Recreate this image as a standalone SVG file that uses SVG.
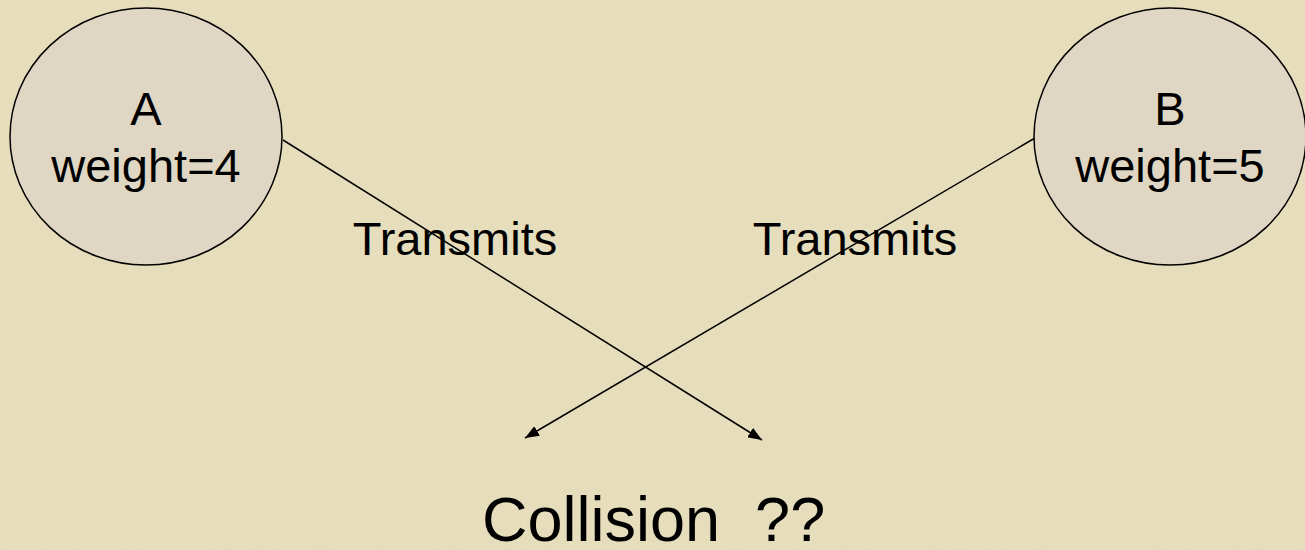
<svg xmlns="http://www.w3.org/2000/svg" width="1305" height="550" viewBox="0 0 1305 550">
<style>
.node{fill:#DFD7C3;stroke:#000;stroke-width:1.5}
.t{font-family:"Liberation Sans",Arial,sans-serif;font-size:47px;fill:#000;text-anchor:middle}
.edge{stroke:#000;stroke-width:1.5;fill:none;marker-end:url(#ah)}
</style>
<defs>
<marker id="ah" viewBox="0 0 14 11" refX="14" refY="5.5" markerWidth="14" markerHeight="11" markerUnits="userSpaceOnUse" orient="auto">
<path d="M0,0 L14,5.5 L0,11 z" fill="#000"/>
</marker>
<filter id="tex" x="0" y="0" width="100%" height="100%">
<feTurbulence type="fractalNoise" baseFrequency="0.35" numOctaves="2" seed="3" result="n"/>
<feColorMatrix in="n" type="matrix" values="0 0 0 0 0.6  0 0 0 0 0.55  0 0 0 0 0.4  0 0 0 0.2 0" result="c"/>
<feComposite in="c" in2="SourceGraphic" operator="over"/>
</filter>
</defs>
<rect width="1305" height="550" fill="#E8E0BD" filter="url(#tex)"/>
<g id="connectors">
<line class="edge" x1="283" y1="140" x2="762" y2="440"/>
<line class="edge" x1="1035" y1="138" x2="525" y2="438"/>
</g>
<g id="nodeA">
<ellipse class="node" cx="146" cy="136.5" rx="136" ry="128.5"/>
<text class="t" x="146" y="125">A</text>
<text class="t" x="146" y="182">weight=4</text>
</g>
<g id="nodeB">
<ellipse class="node" cx="1170" cy="136.5" rx="136" ry="128.5"/>
<text class="t" x="1170" y="125">B</text>
<text class="t" x="1170" y="182">weight=5</text>
</g>
<g id="labels">
<text class="t" x="455" y="255">Transmits</text>
<text class="t" x="855" y="255">Transmits</text>
<text class="t" style="font-size:63px;text-anchor:start" x="482" y="541" xml:space="preserve">Collision  ??</text>
</g>
</svg>
